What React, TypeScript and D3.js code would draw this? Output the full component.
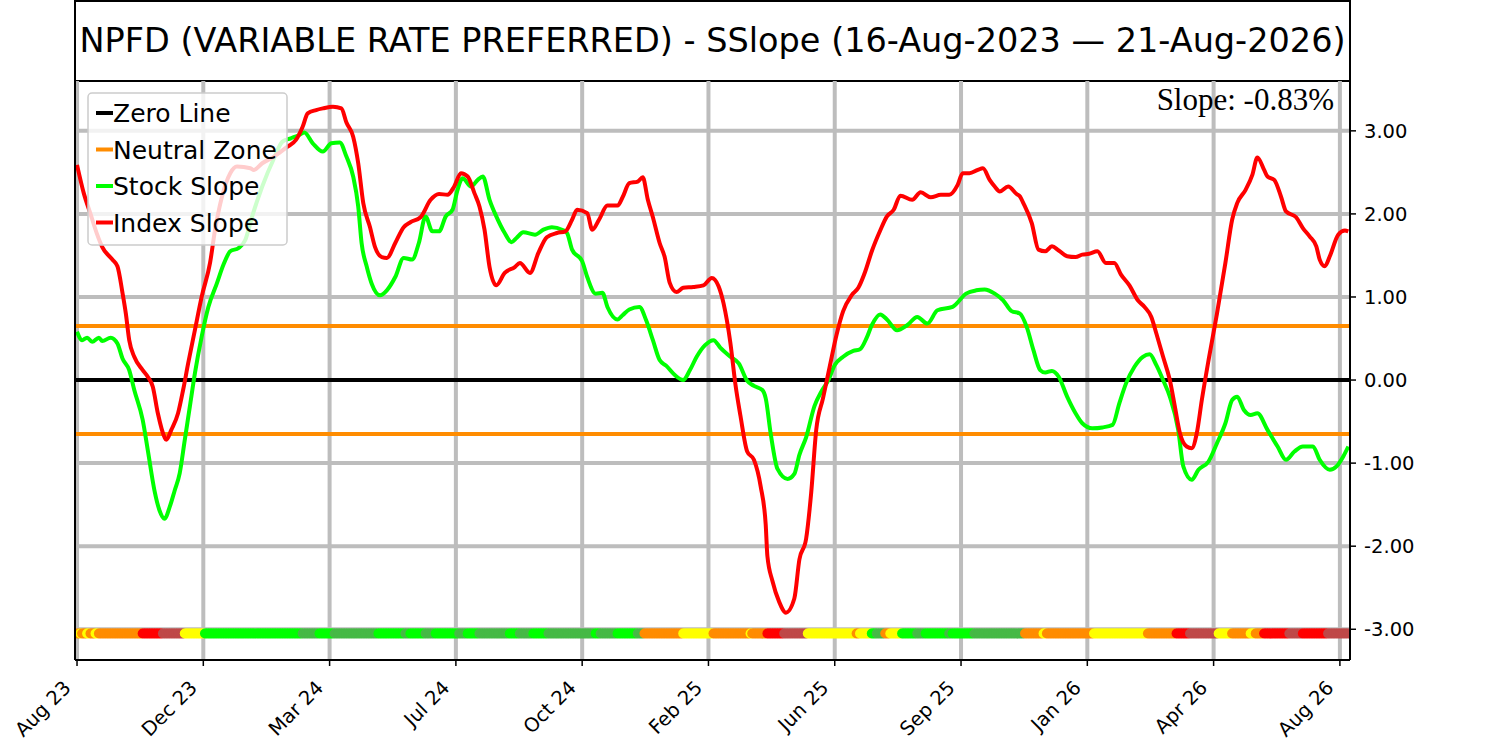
import React from 'react';
import * as d3 from 'd3';

// trading-day index, value
const indexSlope: [number, number][] = [
  [0, 2.59], [4, 2.25], [8, 2.0], [12, 1.75], [15, 1.6], [21, 1.45], [24, 1.37], [27, 1.05], [29, 0.8],
  [31, 0.48], [34, 0.28], [39, 0.12], [42, 0.04], [45, -0.08], [48, -0.4], [52, -0.69], [53, -0.72],
  [56, -0.6], [60, -0.4], [63, -0.12], [66, 0.2], [70, 0.6], [74, 1.0], [79, 1.41], [82, 1.81], [86, 2.2],
  [91, 2.49], [95, 2.57], [103, 2.55], [105, 2.53], [110, 2.61], [117, 2.69], [125, 2.81], [130, 2.89],
  [134, 3.05], [137, 3.21], [142, 3.25], [146, 3.27], [152, 3.29], [157, 3.27], [160, 3.1], [164, 2.93],
  [167, 2.61], [170, 2.13], [174, 1.84], [177, 1.6], [181, 1.48], [184, 1.47], [189, 1.65], [194, 1.84],
  [198, 1.9], [204, 1.96], [210, 2.17], [215, 2.24], [220, 2.23], [224, 2.33], [228, 2.49], [232, 2.45],
  [236, 2.25], [239, 2.09], [242, 1.81], [245, 1.36], [249, 1.14], [254, 1.29], [260, 1.36], [263, 1.41],
  [269, 1.29], [274, 1.53], [279, 1.72], [285, 1.77], [290, 1.79], [294, 1.93], [297, 2.05], [303, 2.01],
  [306, 1.81], [310, 1.93], [315, 2.1], [321, 2.1], [324, 2.2], [328, 2.37], [333, 2.39], [336, 2.44],
  [339, 2.17], [342, 1.96], [346, 1.65], [349, 1.48], [352, 1.17], [356, 1.06], [360, 1.11], [366, 1.12],
  [372, 1.14], [377, 1.23], [381, 1.13], [384, 0.92], [388, 0.45], [391, -0.05], [394, -0.43], [398, -0.86],
  [402, -0.96], [406, -1.28], [409, -1.74], [410, -2.12], [413, -2.42], [417, -2.67], [421, -2.8],
  [426, -2.63], [429, -2.16], [433, -1.91], [436, -1.36], [439, -0.6], [443, -0.22], [447, 0.16],
  [451, 0.54], [455, 0.83], [460, 1.02], [464, 1.11], [468, 1.3], [472, 1.55], [477, 1.8], [481, 1.97],
  [485, 2.05], [489, 2.22], [496, 2.17], [501, 2.26], [507, 2.2], [513, 2.23], [518, 2.23], [523, 2.35],
  [526, 2.49], [530, 2.49], [535, 2.53], [538, 2.55], [542, 2.41], [545, 2.33], [548, 2.27], [553, 2.33],
  [558, 2.24], [560, 2.21], [562, 2.13], [567, 1.89], [571, 1.57], [575, 1.55], [579, 1.61], [583, 1.56],
  [588, 1.49], [593, 1.48], [597, 1.51], [601, 1.52], [606, 1.55], [611, 1.41], [616, 1.41], [620, 1.27],
  [625, 1.14], [630, 0.96], [634, 0.88], [638, 0.76], [641, 0.56], [645, 0.28], [649, 0.0], [652, -0.32],
  [655, -0.64], [659, -0.8], [662, -0.82], [665, -0.64], [668, -0.24], [672, 0.24], [677, 0.8], [682, 1.41],
  [686, 1.93], [689, 2.13], [694, 2.29], [698, 2.47], [701, 2.68], [705, 2.53], [707, 2.45], [711, 2.41],
  [715, 2.21], [718, 2.03], [724, 1.96], [728, 1.83], [732, 1.73], [736, 1.61], [738, 1.45], [741, 1.37],
  [744, 1.49], [749, 1.75], [753, 1.8], [755, 1.79],
];

const stockSlope: [number, number][] = [
  [0, 0.58], [3, 0.48], [6, 0.51], [9, 0.46], [13, 0.51], [15, 0.47], [20, 0.51], [24, 0.44], [27, 0.26],
  [31, 0.12], [34, -0.12], [39, -0.48], [42, -0.84], [46, -1.33], [49, -1.57], [52, -1.67], [55, -1.53],
  [58, -1.33], [61, -1.12], [64, -0.72], [67, -0.32], [70, 0.08], [74, 0.52], [78, 0.88], [83, 1.16],
  [87, 1.39], [91, 1.55], [96, 1.59], [100, 1.69], [104, 1.97], [110, 2.33], [117, 2.67], [122, 2.87],
  [127, 2.91], [132, 2.95], [135, 2.98], [140, 2.85], [146, 2.75], [151, 2.85], [156, 2.86], [160, 2.69],
  [164, 2.45], [167, 2.09], [169, 1.65], [172, 1.37], [175, 1.16], [180, 1.02], [184, 1.08], [189, 1.24],
  [194, 1.47], [199, 1.45], [203, 1.65], [207, 1.97], [211, 1.79], [215, 1.79], [219, 1.97], [223, 2.05],
  [226, 2.29], [229, 2.43], [234, 2.33], [238, 2.41], [241, 2.45], [245, 2.17], [249, 1.97], [254, 1.77],
  [258, 1.66], [261, 1.71], [265, 1.78], [272, 1.75], [277, 1.81], [282, 1.84], [288, 1.81], [291, 1.77],
  [294, 1.57], [300, 1.43], [303, 1.24], [308, 1.04], [312, 1.05], [315, 0.88], [321, 0.73], [324, 0.78],
  [328, 0.85], [334, 0.88], [338, 0.72], [342, 0.48], [346, 0.24], [350, 0.17], [355, 0.06], [360, 0.0],
  [364, 0.12], [368, 0.28], [373, 0.42], [378, 0.48], [382, 0.39], [388, 0.28], [393, 0.2], [398, -0.01],
  [402, -0.07], [407, -0.12], [409, -0.22], [412, -0.65], [416, -1.07], [422, -1.19], [426, -1.13],
  [429, -0.9], [433, -0.69], [438, -0.31], [442, -0.14], [446, -0.01], [450, 0.18], [455, 0.28], [461, 0.35],
  [465, 0.37], [469, 0.51], [472, 0.66], [477, 0.79], [481, 0.73], [487, 0.6], [493, 0.66], [499, 0.76],
  [505, 0.68], [511, 0.84], [520, 0.88], [528, 1.04], [534, 1.08], [539, 1.09], [545, 1.04], [550, 0.96],
  [555, 0.83], [560, 0.8], [564, 0.64], [568, 0.36], [572, 0.12], [575, 0.09], [579, 0.11], [583, 0.04],
  [588, -0.2], [593, -0.4], [597, -0.52], [603, -0.58], [609, -0.57], [615, -0.54], [619, -0.28],
  [623, -0.04], [628, 0.16], [633, 0.28], [637, 0.31], [641, 0.18], [645, 0.0], [649, -0.2], [654, -0.6],
  [657, -1.04], [662, -1.2], [666, -1.08], [672, -0.98], [677, -0.76], [682, -0.52], [686, -0.24],
  [689, -0.2], [693, -0.36], [697, -0.42], [701, -0.4], [707, -0.6], [713, -0.8], [718, -0.96], [723, -0.86],
  [728, -0.8], [734, -0.8], [738, -0.96], [744, -1.08], [748, -1.04], [752, -0.92], [755, -0.8],
];

// signal band runs: [from index, to index (exclusive), state]
const signalRuns: [number, number, string][] = [
  [0, 2, 'orange'], [2, 3, 'yellow'], [3, 6, 'orange'], [6, 8, 'yellow'], [8, 11, 'orange'], [11, 13, 'yellow'],
  [13, 39, 'orange'], [39, 51, 'red'], [51, 64, 'darkred'], [64, 76, 'yellow'], [76, 134, 'lime'],
  [134, 144, 'green'], [144, 153, 'lime'], [153, 179, 'green'], [179, 195, 'lime'], [195, 198, 'green'],
  [198, 207, 'lime'], [207, 213, 'green'], [213, 227, 'lime'], [227, 232, 'green'], [232, 239, 'lime'],
  [239, 257, 'green'], [257, 263, 'lime'], [263, 271, 'green'], [271, 280, 'lime'], [280, 308, 'green'],
  [308, 311, 'lime'], [311, 321, 'green'], [321, 333, 'lime'], [333, 337, 'green'], [337, 360, 'orange'],
  [360, 378, 'yellow'], [378, 400, 'orange'], [400, 401, 'yellow'], [401, 410, 'orange'], [410, 420, 'red'],
  [420, 434, 'darkred'], [434, 463, 'yellow'], [463, 465, 'orange'], [465, 472, 'yellow'], [472, 475, 'lime'],
  [475, 480, 'green'], [480, 483, 'orange'], [483, 490, 'yellow'], [490, 499, 'lime'], [499, 504, 'green'],
  [504, 518, 'lime'], [518, 520, 'green'], [520, 533, 'lime'], [533, 563, 'green'], [563, 574, 'orange'],
  [574, 576, 'yellow'], [576, 604, 'orange'], [604, 636, 'yellow'], [636, 653, 'orange'], [653, 661, 'red'],
  [661, 678, 'darkred'], [678, 686, 'yellow'], [686, 697, 'orange'], [697, 700, 'yellow'], [700, 705, 'orange'],
  [705, 720, 'red'], [720, 728, 'darkred'], [728, 743, 'red'], [743, 756, 'darkred'],
];

const stateColors: Record<string, string> = {
  orange: '#ff8c00',
  yellow: '#ffff00',
  red: '#ff0000',
  darkred: '#bf4848',
  lime: '#00ff00',
  green: '#46b946',
};

const xTickIndex = [0, 75, 150, 225, 300, 375, 450, 525, 600, 675, 750];
const xTickLabels = ['Aug 23', 'Dec 23', 'Mar 24', 'Jul 24', 'Oct 24', 'Feb 25', 'Jun 25', 'Sep 25', 'Jan 26', 'Apr 26', 'Aug 26'];
const yTicks = [-3, -2, -1, 0, 1, 2, 3];
const neutralBand = [0.65, -0.65];
const bandLevel = -3.05;

const legendItems = [
  { label: 'Zero Line', color: '#000000' },
  { label: 'Neutral Zone', color: '#ff8c00' },
  { label: 'Stock Slope', color: '#00ff00' },
  { label: 'Index Slope', color: '#ff0000' },
];

const title = 'NPFD (VARIABLE RATE PREFERRED) - SSlope (16-Aug-2023 \u2014 21-Aug-2026)';
const slopeText = 'Slope: -0.83%';

const W = 1500;
const H = 741;
const left = 75;
const right = 1350;
const top = 81;
const bottom = 660;

export default function App() {
  const x = d3.scaleLinear().domain([-1.2, 756]).range([left, right]);
  const y = d3.scaleLinear().domain([-3.37, 3.6]).range([bottom, top]);

  const line = d3.line<[number, number]>()
    .x(d => x(d[0]))
    .y(d => y(d[1]))
    .curve(d3.curveMonotoneX);

  // one dot per trading day inside each run
  const dots: { i: number; c: string }[] = [];
  signalRuns.forEach(([a, b, s]) => {
    for (let i = a; i < b; i++) dots.push({ i, c: stateColors[s] });
  });

  const font = 'DejaVu Sans, sans-serif';
  const grid = '#bdbdbd';

  return (
    <svg width={W} height={H} style={{ position: 'absolute', left: 0, top: 0, background: '#fff' }}>
      <defs>
        <clipPath id="plot">
          <rect x={left} y={top} width={right - left} height={bottom - top} />
        </clipPath>
      </defs>

      {/* title box */}
      <rect x={left} y={1} width={right - left} height={top - 1} fill="#fff" stroke="#000" strokeWidth={2} />
      <text x={(left + right) / 2} y={52} textAnchor="middle" fontFamily={font} fontSize={33.5} fill="#000">
        {title}
      </text>

      <g clipPath="url(#plot)">
        {/* grid */}
        {xTickIndex.map(t => (
          <line key={'gx' + t} x1={x(t)} x2={x(t)} y1={top} y2={bottom} stroke={grid} strokeWidth={4} />
        ))}
        {yTicks.map(t => (
          <line key={'gy' + t} x1={left} x2={right} y1={y(t)} y2={y(t)} stroke={grid} strokeWidth={4} />
        ))}

        {/* reference lines */}
        <line x1={left} x2={right} y1={y(0)} y2={y(0)} stroke="#000" strokeWidth={4} />
        {neutralBand.map(v => (
          <line key={'n' + v} x1={left} x2={right} y1={y(v)} y2={y(v)} stroke="#ff8c00" strokeWidth={4} />
        ))}

        {/* signal dots */}
        {dots.map(d => (
          <circle key={'d' + d.i} cx={x(d.i)} cy={y(bandLevel)} r={5} fill={d.c} />
        ))}

        <path d={line(stockSlope) || ''} fill="none" stroke="#00ff00" strokeWidth={4} strokeLinejoin="round" />
        <path d={line(indexSlope) || ''} fill="none" stroke="#ff0000" strokeWidth={4} strokeLinejoin="round" />
      </g>

      {/* frame */}
      <line x1={left} x2={left} y1={top} y2={bottom} stroke="#000" strokeWidth={2} />
      <line x1={right} x2={right} y1={top} y2={bottom} stroke="#000" strokeWidth={2} />
      <line x1={left} x2={right} y1={bottom} y2={bottom} stroke="#000" strokeWidth={2} />

      {/* right y axis */}
      {yTicks.map(t => (
        <g key={'yt' + t}>
          <line x1={right} x2={right + 6} y1={y(t)} y2={y(t)} stroke="#000" strokeWidth={1.5} />
          <text x={right + 14} y={y(t)} dy="0.35em" fontFamily={font} fontSize={19.5} fill="#000">
            {d3.format('.2f')(t).replace('\u2212', '-')}
          </text>
        </g>
      ))}

      {/* x axis */}
      {xTickIndex.map((t, k) => (
        <g key={'xt' + t}>
          <line x1={x(t)} x2={x(t)} y1={bottom} y2={bottom + 6} stroke="#000" strokeWidth={1.5} />
          <text
            transform={`translate(${x(t) - 5},${bottom + 29}) rotate(-45)`}
            textAnchor="end"
            fontFamily={font}
            fontSize={19.5}
            fill="#000"
          >
            {xTickLabels[k]}
          </text>
        </g>
      ))}

      {/* slope annotation */}
      <text x={1334} y={110} textAnchor="end" fontFamily="Liberation Serif, Times New Roman, serif" fontSize={31} fill="#000">
        {slopeText}
      </text>

      {/* legend */}
      <g>
        <rect x={88} y={93} width={199} height={152} rx={4} fill="#fff" fillOpacity={0.8} stroke="#cccccc" strokeWidth={1.5} />
        {legendItems.map((it, k) => {
          const cy = 113 + k * 36.5;
          return (
            <g key={it.label}>
              <line x1={96} x2={113} y1={cy} y2={cy} stroke={it.color} strokeWidth={4} />
              <text x={113} y={cy} dy="0.36em" fontFamily={font} fontSize={25} fill="#000">
                {it.label}
              </text>
            </g>
          );
        })}
      </g>
    </svg>
  );
}
